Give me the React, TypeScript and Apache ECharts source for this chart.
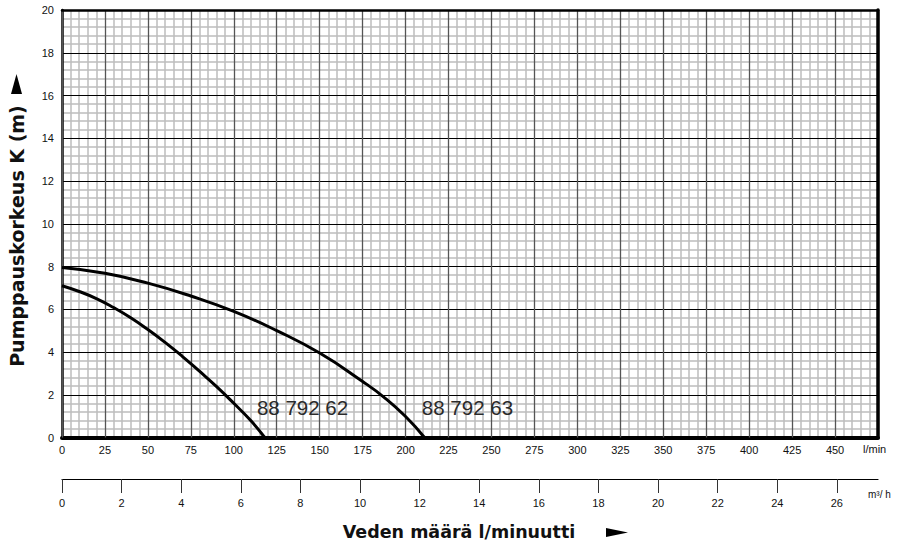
import React, { useEffect, useRef } from "react";
import * as echarts from "echarts";

// Pump curves: flow (l/min) vs head (m)
const pump62Flow = [0, 10, 20, 30, 40, 50, 60, 70, 80, 90, 100, 110, 118];
const pump62Head = [7.1, 6.83, 6.5, 6.08, 5.6, 5.05, 4.45, 3.8, 3.1, 2.38, 1.6, 0.78, 0];
const pump63Flow = [0, 25, 50, 75, 100, 125, 150, 175, 187.5, 200, 211];
const pump63Head = [7.95, 7.68, 7.22, 6.62, 5.9, 5.0, 3.95, 2.62, 1.88, 0.98, 0];

const curveNames = ["88 792 62", "88 792 63"];
// label anchor positions in data units [flow, head]
const labelFlow = [140, 236];
const labelHead = [1.4, 1.4];

const m3hTicks = [0, 2, 4, 6, 8, 10, 12, 14, 16, 18, 20, 22, 24, 26];

const FONT = "'Liberation Sans', Arial, sans-serif";
const TITLE_FONT = "'DejaVu Sans', 'Open Sans', sans-serif";

export default function App() {
  const ref = useRef<HTMLDivElement>(null);
  useEffect(() => {
    if (!ref.current) return;
    const chart = echarts.init(ref.current, undefined, { renderer: "svg" });
    const toPairs = (xs: number[], ys: number[]) => xs.map((x, i) => [x, ys[i]]);
    const minorLine = { show: true, lineStyle: { color: "#bdbdbd", width: 1.5 } };
    const labelStyle = (i: number) => ({
      show: true,
      position: "inside",
      formatter: curveNames[i],
      color: "#2a2a2a",
      fontSize: 20.5,
      fontFamily: FONT,
    });
    const option: any = {
      animation: false,
      backgroundColor: "#ffffff",
      grid: [
        { left: 62, right: 25, top: 10, bottom: 108.5 },
        { left: 62, right: 25, top: 478, height: 1 },
      ],
      xAxis: [
        {
          // main flow axis: labels + minor grid
          type: "value",
          gridIndex: 0,
          z: 0,
          min: 0,
          max: 475,
          interval: 25,
          position: "bottom",
          axisLine: { show: true, onZero: false, lineStyle: { color: "#000", width: 4 } },
          axisTick: { show: false },
          minorTick: { show: false, splitNumber: 5 },
          axisLabel: {
            color: "#111",
            fontSize: 11,
            fontFamily: FONT,
            margin: 7,
            formatter: (v: number) => (v === 475 ? "" : String(v)),
          },
          splitLine: { show: false },
          minorSplitLine: minorLine,
        },
        {
          // overlay: major vertical grid + top frame
          type: "value",
          gridIndex: 0,
          z: 1,
          min: 0,
          max: 475,
          interval: 25,
          position: "top",
          axisLine: { show: true, onZero: false, lineStyle: { color: "#000", width: 2.5 } },
          axisTick: { show: false },
          axisLabel: { show: false },
          splitLine: { show: true, lineStyle: { color: "#555", width: 1.3 } },
        },
        {
          type: "value",
          gridIndex: 1,
          min: 0,
          max: 27.38,
          position: "bottom",
          axisLine: { show: true, onZero: false, lineStyle: { color: "#000", width: 1.2 } },
          axisTick: {
            show: true,
            length: 14,
            customValues: m3hTicks,
            lineStyle: { color: "#333", width: 1 },
          },
          axisLabel: {
            color: "#111",
            fontSize: 11,
            fontFamily: FONT,
            margin: 18,
            customValues: m3hTicks,
          },
          splitLine: { show: false },
        },
      ],
      yAxis: [
        {
          // main head axis: labels + minor grid
          type: "value",
          gridIndex: 0,
          z: 0,
          min: 0,
          max: 20,
          interval: 2,
          axisLine: { show: true, onZero: false, lineStyle: { color: "#000", width: 2.5 } },
          axisTick: { show: false },
          minorTick: { show: false, splitNumber: 5 },
          axisLabel: { color: "#111", fontSize: 11, fontFamily: FONT, margin: 8 },
          splitLine: { show: false },
          minorSplitLine: minorLine,
        },
        {
          // overlay: major horizontal grid + right frame
          type: "value",
          gridIndex: 0,
          z: 1,
          min: 0,
          max: 20,
          interval: 2,
          position: "right",
          axisLine: { show: true, onZero: false, lineStyle: { color: "#000", width: 3.5 } },
          axisTick: { show: false },
          axisLabel: { show: false },
          splitLine: { show: true, lineStyle: { color: "#000", width: 1 } },
        },
        {
          type: "value",
          gridIndex: 1,
          show: false,
          min: 0,
          max: 1,
        },
      ],
      series: [
        {
          name: curveNames[0],
          type: "line",
          xAxisIndex: 0,
          yAxisIndex: 0,
          data: toPairs(pump62Flow, pump62Head),
          smooth: 0.5,
          symbol: "none",
          lineStyle: { color: "#000", width: 3 },
          z: 5,
          markPoint: {
            symbol: "rect",
            symbolSize: 1,
            itemStyle: { color: "rgba(0,0,0,0)" },
            label: labelStyle(0),
            data: [{ coord: [labelFlow[0], labelHead[0]] }],
          },
        },
        {
          name: curveNames[1],
          type: "line",
          xAxisIndex: 0,
          yAxisIndex: 0,
          data: toPairs(pump63Flow, pump63Head),
          smooth: 0.5,
          symbol: "none",
          lineStyle: { color: "#000", width: 3 },
          z: 5,
          markPoint: {
            symbol: "rect",
            symbolSize: 1,
            itemStyle: { color: "rgba(0,0,0,0)" },
            label: labelStyle(1),
            data: [{ coord: [labelFlow[1], labelHead[1]] }],
          },
        },
      ],
      graphic: [
        {
          type: "text",
          x: 17,
          y: 236,
          rotation: Math.PI / 2,
          style: {
            text: "Pumppauskorkeus K (m)",
            fill: "#111",
            font: `bold 19px ${TITLE_FONT}`,
            align: "center",
            verticalAlign: "middle",
          },
        },
        {
          type: "polygon",
          shape: { points: [[16.5, 74], [22, 94], [11, 94]] },
          style: { fill: "#000" },
        },
        {
          type: "text",
          x: 459,
          y: 532,
          style: {
            text: "Veden määrä l/minuutti",
            fill: "#111",
            font: `bold 17.5px ${TITLE_FONT}`,
            align: "center",
            verticalAlign: "middle",
          },
        },
        {
          type: "polygon",
          shape: { points: [[606, 528], [628, 532.5], [606, 537]] },
          style: { fill: "#000" },
        },
        {
          type: "text",
          x: 863,
          y: 449,
          style: {
            text: "l/min",
            fill: "#111",
            font: `11px ${FONT}`,
            align: "left",
            verticalAlign: "middle",
          },
        },
        {
          type: "text",
          x: 868,
          y: 494,
          style: {
            text: "m³/ h",
            fill: "#111",
            font: `10px ${FONT}`,
            align: "left",
            verticalAlign: "middle",
          },
        },
      ],
    };
    chart.setOption(option);
    return () => chart.dispose();
  }, []);
  return <div ref={ref} style={{ width: 903, height: 546, position: "absolute", left: 0, top: 0 }} />;
}
